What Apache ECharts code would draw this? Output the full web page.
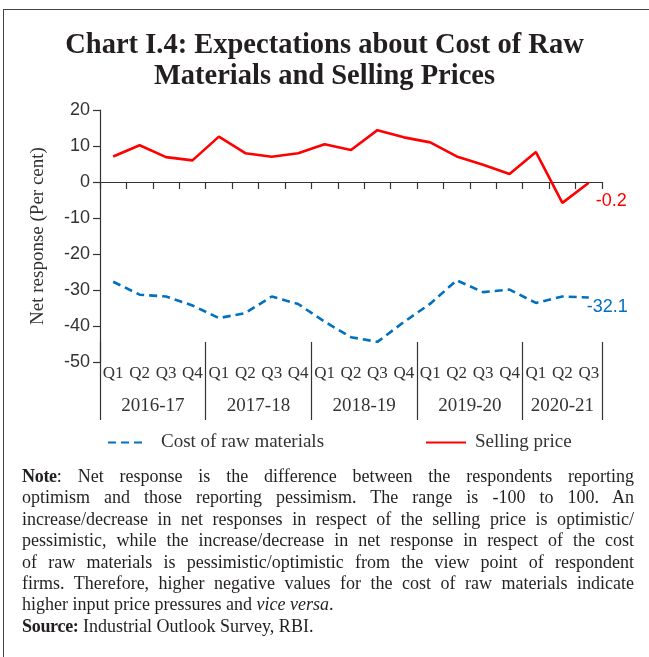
<!DOCTYPE html>
<html>
<head>
<meta charset="utf-8">
<script src="https://cdn.jsdelivr.net/npm/echarts@6/dist/echarts.min.js"></script>
<style>
    body{
        margin:0;
        background:#fff;
    }
    .wrap{
        position:relative;
        width:649px;
        height:657px;
        overflow:hidden;
    }
    .frame{
        position:absolute;
        left:3px;
        top:9px;
        right:-2px;
        bottom:-2px;
        border-left:1.5px solid #444;
        border-top:1.5px solid #444;
    }
    #chart{
        position:absolute;
        left:0;
        top:0;
        width:649px;
        height:657px;
    }
    .note{
        position:absolute;
        left:22px;
        top:466px;
        width:612px;
        font-family:'Liberation Serif', serif;
        font-size:18px;
        line-height:21.4px;
        color:#231f20;
    }
    .note .j{
        text-align:justify;
        text-align-last:justify;
        white-space:nowrap;
    }
    .note .l{
        text-align:left;
    }
    .note b{
        letter-spacing:-0.3px;
    }
</style>
</head>
<body>
<div class="wrap">
    <div id="chart"></div>
    <div class="frame"></div>
    <div class="note">
        <div class="j"><b>Note</b>: Net response is the difference between the respondents reporting</div>
        <div class="j">optimism and those reporting pessimism. The range is -100 to 100. An</div>
        <div class="j">increase/decrease in net responses in respect of the selling price is optimistic/</div>
        <div class="j">pessimistic, while the increase/decrease in net response in respect of the cost</div>
        <div class="j">of raw materials is pessimistic/optimistic from the view point of respondent</div>
        <div class="j">firms. Therefore, higher negative values for the cost of raw materials indicate</div>
        <div class="l">higher input price pressures and <i>vice versa</i>.</div>
        <div class="l"><b>Source:</b> Industrial Outlook Survey, RBI.</div>
    </div>
</div>
<script>
    // 季度标签 / quarters
    var quarters = ['Q1','Q2','Q3','Q4','Q1','Q2','Q3','Q4','Q1','Q2','Q3','Q4',
                    'Q1','Q2','Q3','Q4','Q1','Q2','Q3'];
    var years = ['2016-17','2017-18','2018-19','2019-20','2020-21'];
    var quartersPerYear = [4, 4, 4, 4, 3];

    var costRaw = [-27.7, -31.3, -31.8, -34.3, -37.8, -36.4, -31.8, -33.9, -38.8, -43.1,
                   -44.4, -38.9, -33.8, -27.3, -30.6, -29.9, -33.6, -31.8, -32.1];
    var sellingPrice = [7.1, 10.2, 6.9, 6.0, 12.6, 8.0, 7.0, 8.0, 10.5, 8.9,
                        14.4, 12.4, 11.0, 7.1, 4.8, 2.2, 8.3, -5.8, -0.2];

    var yTicks = [-50, -40, -30, -20, -10, 0, 10, 20];

    // year separators and year label centres, in category units
    var yearEdges = [0];
    var yearCenters = [];
    quartersPerYear.forEach(function(n){
        var start = yearEdges[yearEdges.length - 1];
        yearCenters.push(start + n / 2);
        yearEdges.push(start + n);
    });

    var serif = 'Liberation Serif';
    var sans = 'Liberation Sans';
    var ink = '#333';

    var myChart = echarts.init(document.getElementById('chart'));

    // legend icon: line only, hide the little circle
    var legendBase = {
        top: 428,
        itemHeight: 14,
        itemStyle: {opacity: 0, color: 'transparent', borderWidth: 0},
        textStyle: {fontFamily: serif, fontSize: 19, color: ink}
    };

    var option = {
        backgroundColor: 'transparent',
        animation: false,
        title: {
            text: 'Chart I.4: Expectations about Cost of Raw\nMaterials and Selling Prices',
            left: 'center',
            top: 25,
            padding: [5, 0, 5, 14],
            textStyle: {
                fontFamily: serif,
                fontWeight: 'bold',
                fontSize: 28.5,
                lineHeight: 31,
                color: '#231f20'
            }
        },
        grid: {
            left: 100,
            right: 47,
            top: 110,
            bottom: 295
        },
        legend: [
            Object.assign({}, legendBase, {
                data: ['Cost of raw materials'],
                left: 102,
                itemWidth: 38,
                textStyle: Object.assign({}, legendBase.textStyle, {padding: [0, 0, 0, 10]})
            }),
            Object.assign({}, legendBase, {
                data: ['Selling price'],
                left: 420,
                itemWidth: 40,
                textStyle: Object.assign({}, legendBase.textStyle, {padding: [0, 0, 0, 4]})
            })
        ],
        xAxis: [
            {
                // axis line sitting on zero
                type: 'category',
                data: quarters,
                boundaryGap: true,
                axisLine: {onZero: true, lineStyle: {color: ink, width: 1.2}},
                axisTick: {show: true, length: 7, lineStyle: {color: ink, width: 1.2}},
                axisLabel: {show: false},
                splitLine: {show: false}
            },
            {
                // quarter labels at the bottom
                type: 'category',
                data: quarters,
                position: 'bottom',
                boundaryGap: true,
                axisLine: {show: false, onZero: false},
                axisTick: {show: false},
                axisLabel: {
                    interval: 0,
                    hideOverlap: false,
                    margin: 3,
                    fontFamily: serif,
                    fontSize: 17,
                    color: ink
                },
                splitLine: {show: false}
            },
            {
                // year groups with separators
                type: 'value',
                min: 0,
                max: quarters.length,
                position: 'bottom',
                offset: 58,
                axisLine: {show: false, onZero: false},
                axisTick: {
                    show: true,
                    inside: true,
                    length: 78,
                    customValues: yearEdges,
                    lineStyle: {color: ink, width: 1.2}
                },
                axisLabel: {
                    inside: true,
                    margin: 4,
                    customValues: yearCenters,
                    formatter: function(v){
                        return years[yearCenters.indexOf(v)] || '';
                    },
                    fontFamily: serif,
                    fontSize: 19,
                    color: ink
                },
                splitLine: {show: false}
            }
        ],
        yAxis: {
            type: 'value',
            min: yTicks[0],
            max: yTicks[yTicks.length - 1],
            interval: 10,
            name: 'Net response (Per cent)',
            nameLocation: 'middle',
            nameRotate: 90,
            nameGap: 52,
            nameTextStyle: {fontFamily: serif, fontSize: 19, color: ink},
            axisLine: {show: true, lineStyle: {color: ink, width: 1.2}},
            axisTick: {show: true, length: 7, lineStyle: {color: ink, width: 1.2}},
            axisLabel: {fontFamily: sans, fontSize: 18, color: ink, margin: 10},
            splitLine: {show: false}
        },
        series: [
            {
                name: 'Cost of raw materials',
                type: 'line',
                data: costRaw,
                symbol: 'none',
                color: '#0070c0',
                lineStyle: {width: 2.6, type: [8, 5], color: '#0070c0'},
                endLabel: {
                    show: true,
                    distance: 0,
                    offset: [-2, 9],
                    formatter: function(p){ return p.value; },
                    fontFamily: sans,
                    fontSize: 18,
                    color: '#0070c0'
                }
            },
            {
                name: 'Selling price',
                type: 'line',
                data: sellingPrice,
                symbol: 'none',
                color: '#ff0000',
                lineStyle: {width: 2.6, color: '#ff0000'},
                endLabel: {
                    show: true,
                    distance: 0,
                    offset: [7, 18],
                    formatter: function(p){ return p.value; },
                    fontFamily: sans,
                    fontSize: 18,
                    color: '#ff0000'
                }
            }
        ]
    };

    myChart.setOption(option);
</script>
</body>
</html>
